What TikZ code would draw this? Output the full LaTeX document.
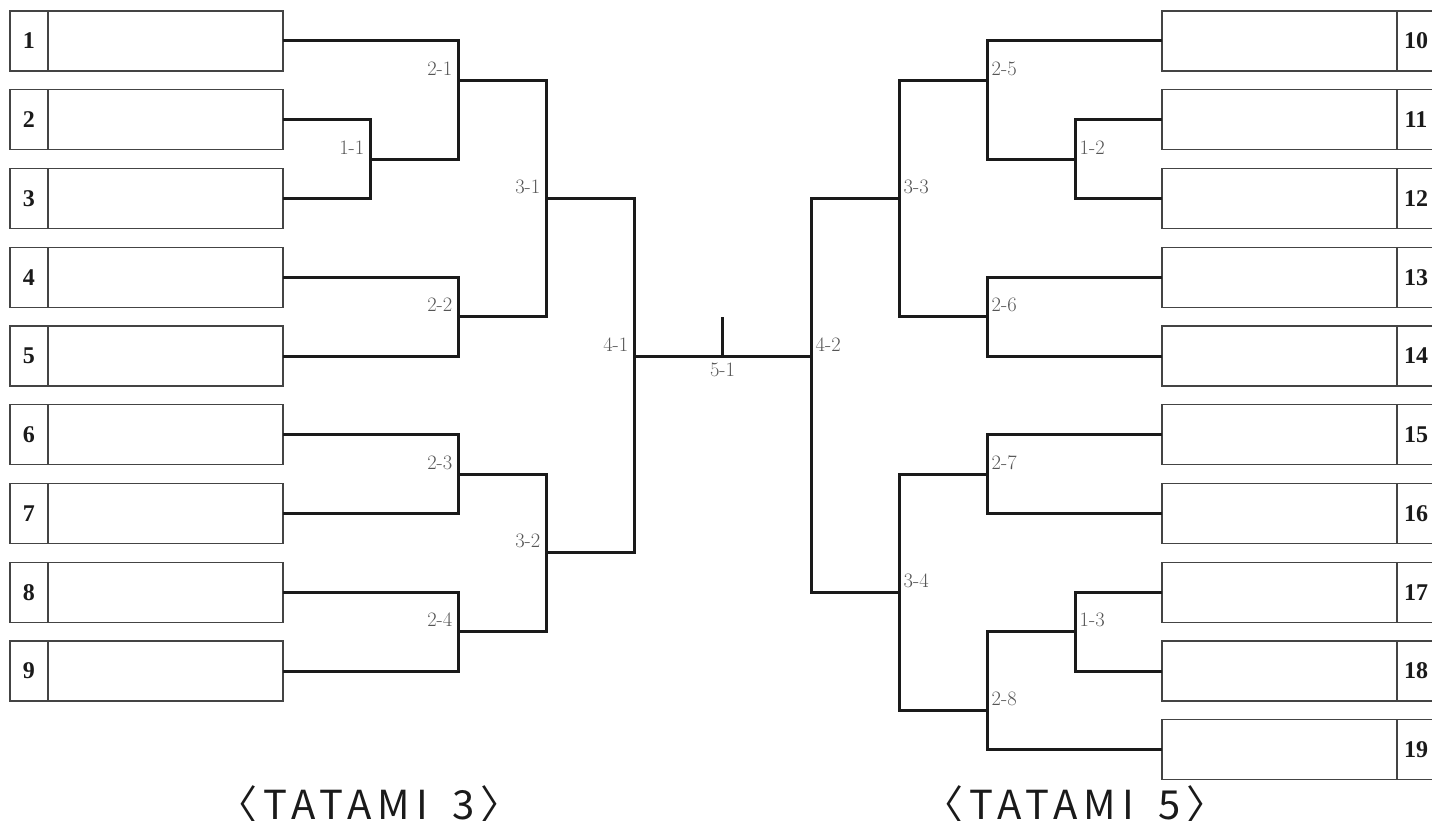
\documentclass[tikz,border=0pt]{standalone}
\usepackage{fontspec}
\newfontfamily\numfont{Liberation Serif}
\newfontfamily\titlefont[LetterSpace=15,RawFeature=+halt]{Noto Sans CJK JP}
\usetikzlibrary{positioning}

\definecolor{labgray}{HTML}{555555}
\definecolor{boxgray}{HTML}{444444}
\definecolor{linedark}{HTML}{1A1A1A}

\tikzset{
  namebox/.style={draw=boxgray, line width=1.3pt, minimum width=235pt, minimum height=60pt, inner sep=0pt, outer sep=0pt},
  numbox/.style={draw=boxgray, line width=1.3pt, minimum width=38pt, minimum height=60pt, inner sep=0pt, outer sep=0pt, font=\numfont\bfseries\fontsize{24}{26}\selectfont, text=linedark},
  bracket/.style={draw=linedark, line width=3pt},
  lableft/.style={anchor=base east, inner sep=0pt, xshift=-5.5pt, yshift=5pt, text=labgray, font=\fontsize{20.5}{22}\selectfont},
  labright/.style={anchor=base west, inner sep=0pt, xshift=4.5pt, yshift=5pt, text=labgray, font=\fontsize{20.5}{22}\selectfont},
  tatami/.style={anchor=base, inner sep=0pt, text=linedark, font=\titlefont\fontsize{40}{44}\selectfont}
}

\begin{document}
\begin{tikzpicture}[x=1pt, y=-1pt]
            \useasboundingbox (0,0) rectangle (1432,821);

            % Entrants, left side
            \node[numbox] (n1) at (29,41) {1};       \node[namebox, right=0pt of n1] (e1) {};
            \node[numbox] (n2) at (29,119.75) {2};   \node[namebox, right=0pt of n2] (e2) {};
            \node[numbox] (n3) at (29,198.5) {3};    \node[namebox, right=0pt of n3] (e3) {};
            \node[numbox] (n4) at (29,277.25) {4};   \node[namebox, right=0pt of n4] (e4) {};
            \node[numbox] (n5) at (29,356) {5};      \node[namebox, right=0pt of n5] (e5) {};
            \node[numbox] (n6) at (29,434.75) {6};   \node[namebox, right=0pt of n6] (e6) {};
            \node[numbox] (n7) at (29,513.5) {7};    \node[namebox, right=0pt of n7] (e7) {};
            \node[numbox] (n8) at (29,592.25) {8};   \node[namebox, right=0pt of n8] (e8) {};
            \node[numbox] (n9) at (29,671) {9};      \node[namebox, right=0pt of n9] (e9) {};

            % Entrants, right side
            \node[numbox] (n10) at (1416,41) {10};      \node[namebox, left=0pt of n10] (e10) {};
            \node[numbox] (n11) at (1416,119.75) {11};  \node[namebox, left=0pt of n11] (e11) {};
            \node[numbox] (n12) at (1416,198.5) {12};   \node[namebox, left=0pt of n12] (e12) {};
            \node[numbox] (n13) at (1416,277.25) {13};  \node[namebox, left=0pt of n13] (e13) {};
            \node[numbox] (n14) at (1416,356) {14};     \node[namebox, left=0pt of n14] (e14) {};
            \node[numbox] (n15) at (1416,434.75) {15};  \node[namebox, left=0pt of n15] (e15) {};
            \node[numbox] (n16) at (1416,513.5) {16};   \node[namebox, left=0pt of n16] (e16) {};
            \node[numbox] (n17) at (1416,592.25) {17};  \node[namebox, left=0pt of n17] (e17) {};
            \node[numbox] (n18) at (1416,671) {18};     \node[namebox, left=0pt of n18] (e18) {};
            \node[numbox] (n19) at (1416,749.75) {19};  \node[namebox, left=0pt of n19] (e19) {};

            % Match points
            \coordinate (m11) at (370,159.1);
            \coordinate (m21) at (458,80.4);
            \coordinate (m22) at (458,316.6);
            \coordinate (m23) at (458,474.1);
            \coordinate (m24) at (458,631.6);
            \coordinate (m31) at (546,198.5);
            \coordinate (m32) at (546,552.9);
            \coordinate (m41) at (634,356);
            \coordinate (m51) at (722.5,356);
            \coordinate (win) at (722.5,317);
            \coordinate (m42) at (811,356);
            \coordinate (m33) at (899,198.5);
            \coordinate (m34) at (899,592.25);
            \coordinate (m25) at (987,80.4);
            \coordinate (m26) at (987,316.6);
            \coordinate (m27) at (987,474.1);
            \coordinate (m28) at (987,710.4);
            \coordinate (m12) at (1075,159.1);
            \coordinate (m13) at (1075,631.6);

            % Left bracket
            \draw[bracket] (e1.east) -| (m21);
            \draw[bracket] (e2.east) -| (m11);
            \draw[bracket] (e3.east) -| (m11);
            \draw[bracket] (m11) -| (m21);
            \draw[bracket] (e4.east) -| (m22);
            \draw[bracket] (e5.east) -| (m22);
            \draw[bracket] (e6.east) -| (m23);
            \draw[bracket] (e7.east) -| (m23);
            \draw[bracket] (e8.east) -| (m24);
            \draw[bracket] (e9.east) -| (m24);
            \draw[bracket] (m21) -| (m31);
            \draw[bracket] (m22) -| (m31);
            \draw[bracket] (m23) -| (m32);
            \draw[bracket] (m24) -| (m32);
            \draw[bracket] (m31) -| (m41);
            \draw[bracket] (m32) -| (m41);

            % Final
            \draw[bracket] (m41) -- (m42);
            \draw[bracket] (m51) -- (win);

            % Right bracket
            \draw[bracket] (e10.west) -| (m25);
            \draw[bracket] (e11.west) -| (m12);
            \draw[bracket] (e12.west) -| (m12);
            \draw[bracket] (m12) -| (m25);
            \draw[bracket] (e13.west) -| (m26);
            \draw[bracket] (e14.west) -| (m26);
            \draw[bracket] (e15.west) -| (m27);
            \draw[bracket] (e16.west) -| (m27);
            \draw[bracket] (e17.west) -| (m13);
            \draw[bracket] (e18.west) -| (m13);
            \draw[bracket] (m13) -| (m28);
            \draw[bracket] (e19.west) -| (m28);
            \draw[bracket] (m25) -| (m33);
            \draw[bracket] (m26) -| (m33);
            \draw[bracket] (m27) -| (m34);
            \draw[bracket] (m28) -| (m34);
            \draw[bracket] (m33) -| (m42);
            \draw[bracket] (m34) -| (m42);

            % Match labels
            \node[lableft] (l11) at (m11) {1-1};
            \node[lableft] (l21) at (m21) {2-1};
            \node[lableft] (l22) at (m22) {2-2};
            \node[lableft] (l23) at (m23) {2-3};
            \node[lableft] (l24) at (m24) {2-4};
            \node[lableft] (l31) at (m31) {3-1};
            \node[lableft] (l32) at (m32) {3-2};
            \node[lableft] (l41) at (m41) {4-1};
            \node[labright] (l42) at (m42) {4-2};
            \node[labright] (l33) at (m33) {3-3};
            \node[labright] (l34) at (m34) {3-4};
            \node[labright] (l25) at (m25) {2-5};
            \node[labright] (l26) at (m26) {2-6};
            \node[labright] (l27) at (m27) {2-7};
            \node[labright] (l28) at (m28) {2-8};
            \node[labright] (l12) at (m12) {1-2};
            \node[labright] (l13) at (m13) {1-3};
            \node[anchor=north, inner sep=0pt, yshift=-7pt, text=labgray, font=\fontsize{20.5}{22}\selectfont] (l51) at (m51) {5-1};

            % Mat titles
            \node[tatami] (t3) at (369,819) {〈TATAMI\hspace{10pt} 3〉};
            \node[tatami] (t5) at (1075,819) {〈TATAMI\hspace{10pt} 5〉};
\end{tikzpicture}
\end{document}
